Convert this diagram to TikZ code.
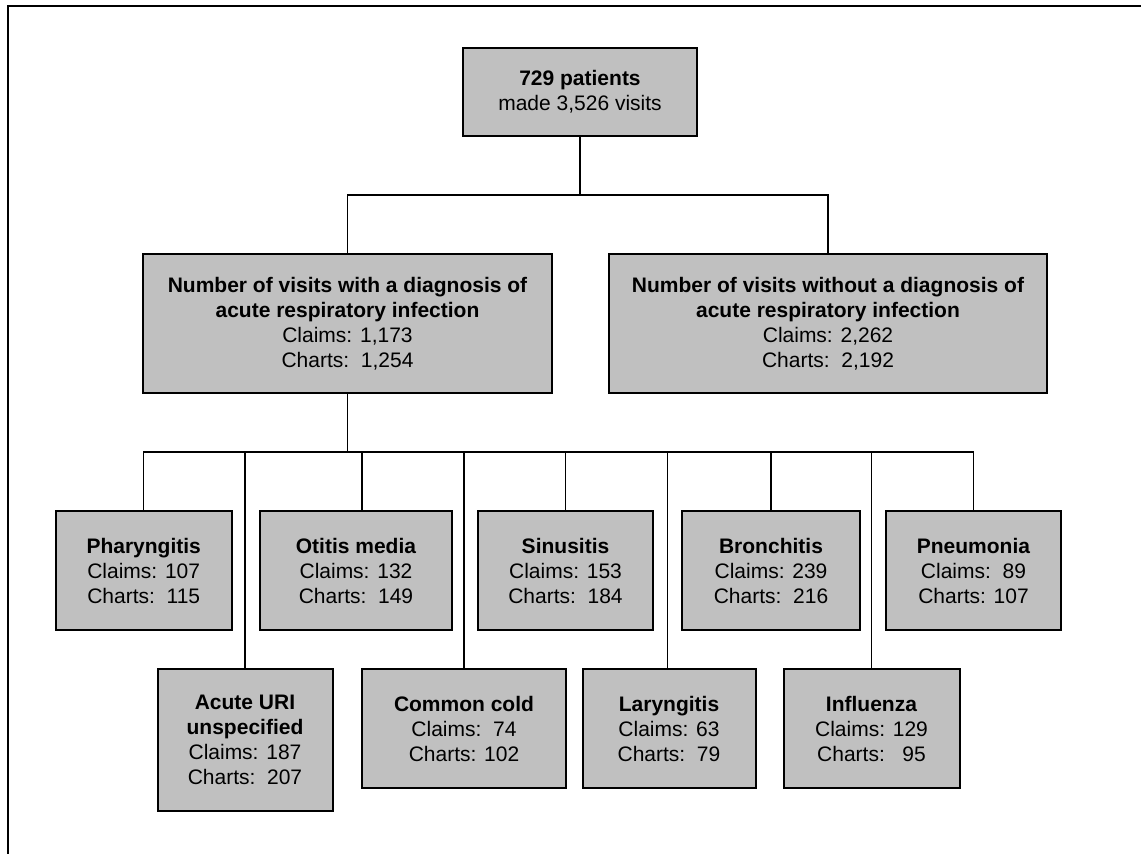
\documentclass[tikz,border=0pt]{standalone}
\usepackage{fontspec}
\setmainfont{Liberation Sans}
\usetikzlibrary{positioning}
\definecolor{boxgray}{HTML}{C0C0C0}
\begin{document}
\begin{tikzpicture}[x=0.5pt,y=-0.5pt,
    box/.style={draw, line width=1pt, fill=boxgray, align=center, inner sep=0pt, font=\fontsize{10.5}{12.5}\selectfont},
    leaf/.style={box, minimum width=88pt, minimum height=59.5pt},
    link/.style={line width=0.75pt}]
    \useasboundingbox (0,0) rectangle (1141,854);
    \draw[line width=1pt] (1141,6) -- (8,6) -- (8,854);
    % top levels
    \node[box, minimum width=117pt, minimum height=44pt] (pat) at (580,92) {\textbf{729 patients}\\made 3,526 visits};
    \node[box, minimum width=204.5pt, minimum height=69.5pt] (ari) at (347.5,323.5) {\textbf{Number of visits with a diagnosis of}\\\textbf{acute respiratory infection}\\Claims: 1,173\\Charts:\ \ 1,254};
    \node[box, minimum width=219pt, minimum height=69.5pt] (noari) at (828,323.5) {\textbf{Number of visits without a diagnosis of}\\\textbf{acute respiratory infection}\\Claims: 2,262\\Charts:\ \ 2,192};
    % diagnoses
    \node[leaf] (phar) at (143.7,570.5) {\textbf{Pharyngitis}\\Claims: 107\\Charts:\ \ 115};
    \node[leaf, minimum width=96pt] (oti) at (356,570.5) {\textbf{Otitis media}\\Claims: 132\\Charts:\ \ 149};
    \node[leaf, minimum width=87.5pt] (sin) at (565.5,570.5) {\textbf{Sinusitis}\\Claims: 153\\Charts:\ \ 184};
    \node[leaf, minimum width=89pt] (bron) at (771,570.5) {\textbf{Bronchitis}\\Claims: 239\\Charts:\ \ 216};
    \node[leaf, minimum width=87.5pt] (pneu) at (973.5,570.5) {\textbf{Pneumonia}\\Claims:\ \ 89\\Charts: 107};
    \node[leaf, minimum width=87.5pt, minimum height=71pt] (uri) at (245,740) {\textbf{Acute URI}\\\textbf{unspecified}\\Claims: 187\\Charts:\ \ 207};
    \node[leaf, minimum width=102pt] (cold) at (464,728.5) {\textbf{Common cold}\\Claims:\ \ 74\\Charts: 102};
    \node[leaf, minimum width=86.5pt] (lar) at (669,728.5) {\textbf{Laryngitis}\\Claims: 63\\Charts:\ \ 79};
    \node[leaf] (flu) at (871.5,728.5) {\textbf{Influenza}\\Claims: 129\\Charts:\ \ \ 95};
    % connectors
    \coordinate (j1) at (580,195);
    \coordinate (j2) at (347.5,452);
    \draw[link] (pat.south) -- (j1);
    \draw[link] (ari.north) -- (ari.north |- j1) -- (noari.north |- j1) -- (noari.north);
    \draw[link] (ari.south) -- (j2);
    \draw[link] (phar.north) -- (phar.north |- j2) -- (pneu.north |- j2) -- (pneu.north);
    \draw[link] ([xshift=3pt]oti.north) -- ([xshift=3pt]oti.north |- j2);
    \draw[link] ([xshift=-0.75pt]lar.north) -- ([xshift=-0.75pt]lar.north |- j2);
    \foreach \n in {sin,bron,uri,cold,flu}
        \draw[link] (\n.north) -- (\n.north |- j2);
\end{tikzpicture}
\end{document}
